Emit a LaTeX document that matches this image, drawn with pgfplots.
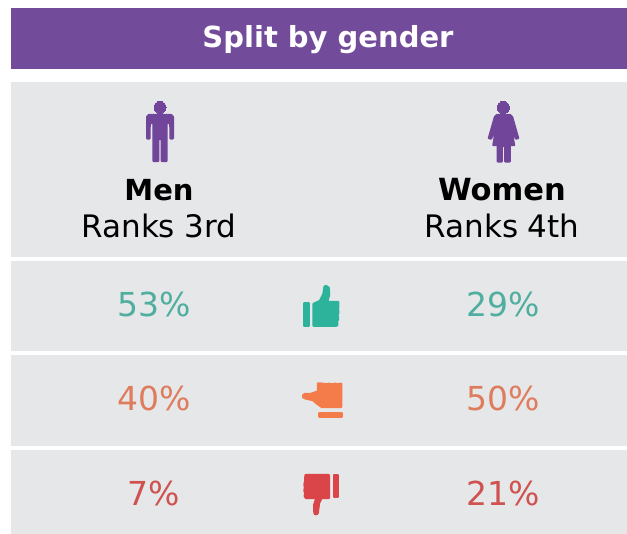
\documentclass[border=0pt]{standalone}
\usepackage{fontspec}
\setmainfont{DejaVu Sans}
\usepackage{pgfplots}
\pgfplotsset{compat=1.18}
\definecolor{hdr}{HTML}{734B9B}
\definecolor{panel}{HTML}{E6E7E8}
\definecolor{icp}{HTML}{70459A}
\definecolor{tealt}{HTML}{4FAE9F}
\definecolor{teali}{HTML}{2DB39B}
\definecolor{orat}{HTML}{DF7C5E}
\definecolor{orai}{HTML}{F47B4A}
\definecolor{redt}{HTML}{CF5150}
\definecolor{redi}{HTML}{D94548}
\newcommand{\fs}[1]{\fontsize{#1}{#1}\selectfont}
\begin{document}
\begin{tikzpicture}
\begin{axis}[
  scale only axis, width=627pt, height=534pt,
  xmin=0, xmax=627, ymin=0, ymax=534, y dir=reverse,
  hide axis, clip=false,
  panel/.style={fill=panel, draw=none, mark=none},
  icon/.style={fill=#1, draw=#1, line width=2.4pt, line join=round, mark=none},
  val/.style={draw=none, mark=none, point meta=explicit symbolic,
     nodes near coords, every node near coord/.append style={anchor=center, text=#1, font=\fs{33}}},
]
% page background
\addplot[fill=white, draw=none, mark=none] coordinates {(0,0)(627,0)(627,534)(0,534)} --cycle;
% panels
\addplot[fill=hdr, draw=none, mark=none] coordinates {(11,8)(627,8)(627,69.5)(11,69.5)} --cycle;
\addplot[panel] coordinates {(11,82)(627,82)(627,257)(11,257)} --cycle;
\addplot[panel] coordinates {(11,261)(627,261)(627,351)(11,351)} --cycle;
\addplot[panel] coordinates {(11,355)(627,355)(627,446)(11,446)} --cycle;
\addplot[panel] coordinates {(11,450)(627,450)(627,534)(11,534)} --cycle;
% man
\addplot[only marks, mark=*, mark size=6pt, mark options={fill=icp, draw=icp, line width=0pt}] coordinates {(160,107.5)};
\addplot[icon=icp] coordinates {(149,115)(171,115)(172.8,117)(172.8,138.5)(170.6,138.5)(170.4,123)(166.4,123)(166.4,161)(161.9,161)(161.9,139)(158.1,139)(158.1,161)(153.6,161)(153.6,123)(149.6,123)(149.4,138.5)(147.2,138.5)(147.2,117)} --cycle;
% woman
\addplot[only marks, mark=*, mark size=6.1pt, mark options={fill=icp, draw=icp, line width=0pt}] coordinates {(503.3,107.5)};
\addplot[icon=icp] coordinates {(497,115.2)(510,115.2)(512,117)(518,138)(516,138.5)(510,124)(514,145)(509.6,145)(509.6,161.5)(505.4,161.5)(505.4,146)(501.7,146)(501.7,161.5)(497.8,161.5)(497.8,145)(493.5,145)(497,124)(491,138.5)(489,138)(495,117)} --cycle;
% thumb up
\addplot[icon=teali] coordinates {(303.9,303.5)(308.8,303.5)(308.8,326.1)(303.9,326.1)} --cycle;
\addplot[icon=teali] coordinates {(313.5,304)(320,301)(323.5,294)(324.5,287)(326,286)(328.7,288)(329,295)(327,302)(338.2,302)(338.2,307.5)(337.2,308.5)(338.2,310)(338.2,313.5)(337.2,315)(337.8,316.5)(337.8,320)(336.8,321)(337.2,322.5)(337.2,325.2)(335.5,325.8)(313.5,325.8)} --cycle;
% sideways thumb
\addplot[icon=orai] coordinates {(318,383.5)(323,383.8)(325,384.5)(329,383.8)(331.5,384.5)(335,383.8)(337,384.5)(341.2,383.8)(341.2,407)(322,407)(317,403.5)(313,400)(306,398.5)(303.2,397.3)(303.2,395.3)(305,394)(311,394)(318,391.5)} --cycle;
\addplot[icon=orai] coordinates {(319.5,413)(342,413)(342,417)(319.5,417)} --cycle;
% thumb down
\addplot[icon=redi] coordinates {(333.9,475.2)(338.1,475.2)(338.1,497.2)(333.9,497.2)} --cycle;
\addplot[icon=redi] coordinates {(305.5,475.2)(328.8,475.2)(328.8,498)(321.5,498)(319,503)(318,510)(317.5,513.5)(315.5,514.3)(314.5,513)(314.2,505)(316.5,498)(306,498)(304.8,496)(305.3,493)(304.5,490.5)(305,487)(304.5,484.5)(305.3,481)} --cycle;
% values
\addplot[val=tealt] coordinates {(154.5,304.5)[53\%] (503,304.5)[29\%]};
\addplot[val=orat] coordinates {(154.5,398.5)[40\%] (503,398.5)[50\%]};
\addplot[val=redt] coordinates {(154,493.5)[7\%] (503,493.5)[21\%]};
% text
\node[text=white, font=\fs{29}\bfseries] at (axis cs:328,39.5) {Split by gender};
\node[text=black, font=\fs{29}\bfseries] at (axis cs:159,190) {Men};
\node[text=black, font=\fs{30.5}\bfseries] at (axis cs:502,190) {Women};
\node[text=black, font=\fs{31}] at (axis cs:159,226) {Ranks 3rd};
\node[text=black, font=\fs{31}] at (axis cs:502,226) {Ranks 4th};
\end{axis}
\end{tikzpicture}
\end{document}
